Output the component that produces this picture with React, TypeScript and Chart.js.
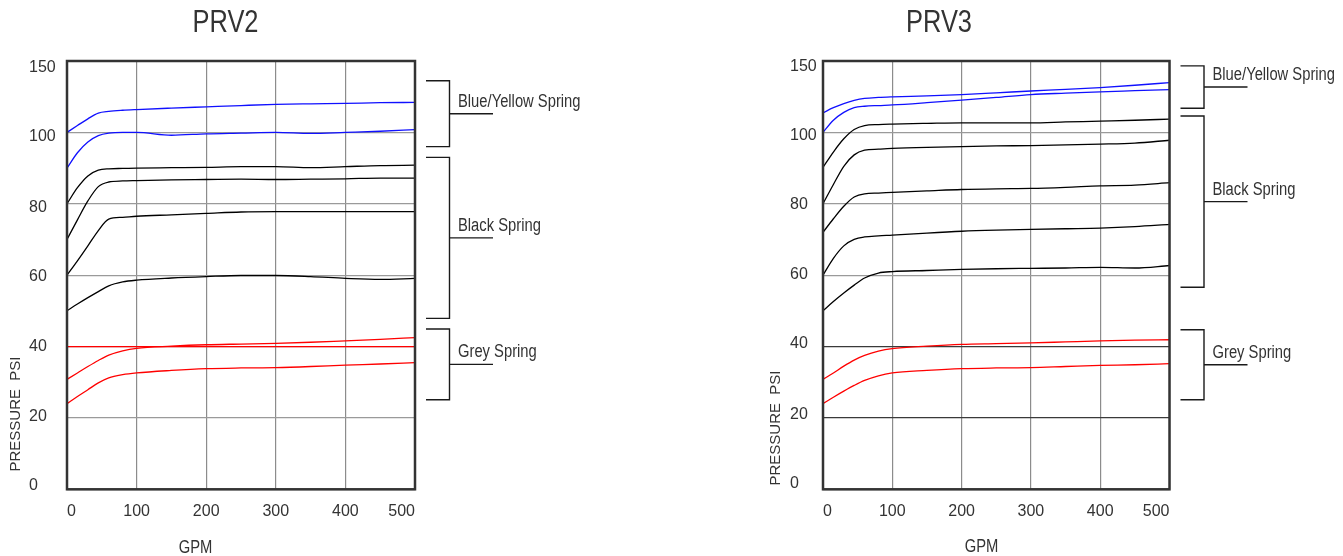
import React, { useEffect, useRef } from 'react';
import { Chart, registerables, LinearScale } from 'chart.js';

// ---------- data ----------
const GPM = [0, 15, 30, 45, 60, 80, 100, 150, 200, 250, 300, 350, 400, 450, 500];
const GPM_TICKS = [0, 100, 200, 300, 400, 500];
const PSI_TICKS = [0, 20, 40, 60, 80, 100, 150];

// PRV2
const PRV2_BLUE_HIGH = [100, 104.8, 109.5, 113.5, 114.7, 115.5, 116, 117, 117.9, 118.8, 119.6, 120, 120.3, 120.8, 121];
const PRV2_BLUE_LOW = [90, 94.3, 97.3, 99.1, 99.8, 100, 100, 99.2, 99.6, 99.8, 100, 99.7, 100, 100.8, 102];
const PRV2_BLACK_1 = [80, 84.5, 87.8, 89.4, 89.8, 89.9, 90, 90.1, 90.2, 90.4, 90.4, 90.1, 90.4, 90.7, 90.8];
const PRV2_BLACK_2 = [70, 75.5, 80.8, 84.8, 86.1, 86.4, 86.5, 86.7, 86.8, 86.9, 86.8, 86.9, 87.0, 87.2, 87.2];
const PRV2_BLACK_3 = [60, 64, 68.2, 72.5, 75.7, 76.2, 76.5, 76.9, 77.3, 77.7, 77.8, 77.8, 77.8, 77.8, 77.8];
const PRV2_BLACK_4 = [50, 51.9, 53.7, 55.4, 57, 58.1, 58.6, 59.2, 59.6, 59.9, 59.9, 59.6, 59.1, 58.8, 59.1];
const PRV2_RED_FLAT = [40, 40, 40, 40, 40, 40, 40, 40, 40, 40, 40, 40, 40, 40, 40];
const PRV2_RED_HIGH = [30.8, 32.6, 34.4, 36.1, 37.6, 38.8, 39.5, 40.1, 40.5, 40.7, 40.9, 41.2, 41.6, 42, 42.5];
const PRV2_RED_LOW = [24, 26, 27.9, 29.8, 31.2, 32.1, 32.6, 33.3, 33.8, 34, 34.1, 34.4, 34.8, 35.1, 35.5];

// PRV3
const PRV3_BLUE_HIGH = [113.7, 117.3, 120.2, 122.4, 123.8, 124.5, 124.9, 125.6, 126.5, 127.7, 129, 130.1, 131.4, 133, 134.9];
const PRV3_BLUE_LOW = [100, 108.5, 114, 117.3, 118.3, 118.8, 119.2, 120.8, 122.6, 124.5, 126.5, 127.5, 128.4, 129.2, 130];
const PRV3_BLACK_1 = [90.2, 94.5, 98.2, 102, 104.8, 105.5, 105.8, 106.3, 106.7, 106.7, 106.7, 107.3, 107.9, 108.5, 109.3];
const PRV3_BLACK_2 = [80, 85.4, 90.5, 93.7, 95, 95.3, 95.5, 95.8, 96, 96.2, 96.3, 96.5, 96.7, 97, 97.8];
const PRV3_BLACK_3 = [72, 75.8, 79.3, 81.9, 82.8, 83, 83.2, 83.6, 84, 84.2, 84.3, 84.6, 85, 85.2, 85.9];
const PRV3_BLACK_4 = [60, 64.7, 68.2, 70, 70.7, 71, 71.2, 71.8, 72.3, 72.6, 72.8, 73, 73.2, 73.6, 74.2];
const PRV3_BLACK_5 = [50, 52.6, 55, 57.2, 59.2, 60.6, 61, 61.3, 61.6, 61.8, 61.9, 62, 62.2, 62, 62.7];
const PRV3_RED_HIGH = [30.8, 32.6, 34.5, 36.2, 37.5, 38.7, 39.4, 40.1, 40.6, 40.8, 41, 41.3, 41.6, 41.8, 41.9];
const PRV3_RED_LOW = [24, 25.8, 27.5, 29.1, 30.5, 31.8, 32.6, 33.3, 33.8, 34, 34.1, 34.4, 34.7, 34.9, 35.2];

// spring groups (psi ranges)
const PRV2_GROUPS = [
  { label: 'Blue/Yellow Spring', from: 96, to: 136.2 },
  { label: 'Black Spring', from: 47.9, to: 93 },
  { label: 'Grey Spring', from: 25.1, to: 44.9 },
];
const PRV3_GROUPS = [
  { label: 'Blue/Yellow Spring', from: 116.9, to: 146.6 },
  { label: 'Black Spring', from: 56.6, to: 111.5 },
  { label: 'Grey Spring', from: 25.1, to: 44.7 },
];

// ---------- styles ----------
const BLUE = '#1010ff';
const BLACK = '#000000';
const RED = '#ff0000';
const SANS = "'Liberation Sans', Arial, sans-serif";
const TEXT = '#333333';
const CONDENSE = 0.82;

// piecewise psi axis: 0..100 takes 5/6 of the height, 100..150 the rest
const BREAK_VALUE = 100;
const BREAK_FRACTION = 5 / 6;

class PiecewiseScale extends LinearScale {
  static id = 'piecewise';
  static defaults = {};
  buildTicks() {
    return PSI_TICKS.map((value) => ({ value }));
  }
  getPixelForValue(value: any) {
    if (value === null || value === undefined || isNaN(value)) return NaN;
    const min = (this as any).min;
    const max = (this as any).max;
    let dec: number;
    if (value <= BREAK_VALUE) dec = ((value - min) / (BREAK_VALUE - min)) * BREAK_FRACTION;
    else dec = BREAK_FRACTION + ((value - BREAK_VALUE) / (max - BREAK_VALUE)) * (1 - BREAK_FRACTION);
    return (this as any).getPixelForDecimal(dec);
  }
  getValueForPixel(pixel: number) {
    const min = (this as any).min;
    const max = (this as any).max;
    const dec = (this as any).getDecimalForPixel(pixel);
    if (dec <= BREAK_FRACTION) return min + (dec / BREAK_FRACTION) * (BREAK_VALUE - min);
    return BREAK_VALUE + ((dec - BREAK_FRACTION) / (1 - BREAK_FRACTION)) * (max - BREAK_VALUE);
  }
  _computeLabelItems(chartArea: any) {
    const items = (LinearScale.prototype as any)._computeLabelItems.call(this, chartArea);
    const shift = (this as any).options.labelShift;
    if (shift) {
      items.forEach((it: any, i: number) => {
        const t = it.options.translation;
        it.options.translation = [t[0], t[1] + (shift[i] || 0)];
      });
    }
    return items;
  }
}

Chart.register(...registerables, PiecewiseScale as any);

type Series = { values: number[]; color: string };

interface ChartCfg {
  title: string;
  left: number;
  width: number;
  series: Series[];
  groups: { label: string; from: number; to: number }[];
  darkGrid: number[];
  yLabelShift: number[];
  pad: { left: number; right: number; top: number };
  yAxisWidth: number;
  titlePos: [number, number];
  yTitlePos: [number, number];
  xTitlePos: [number, number];
}

const HEIGHT = 556;
const PLOT_BOTTOM = 489.3;

const CHARTS: ChartCfg[] = [
  {
    title: 'PRV2',
    left: 0,
    width: 671,
    series: [
      { values: PRV2_BLUE_HIGH, color: BLUE },
      { values: PRV2_BLUE_LOW, color: BLUE },
      { values: PRV2_BLACK_1, color: BLACK },
      { values: PRV2_BLACK_2, color: BLACK },
      { values: PRV2_BLACK_3, color: BLACK },
      { values: PRV2_BLACK_4, color: BLACK },
      { values: PRV2_RED_FLAT, color: RED },
      { values: PRV2_RED_HIGH, color: RED },
      { values: PRV2_RED_LOW, color: RED },
    ],
    groups: PRV2_GROUPS,
    darkGrid: [],
    yLabelShift: [-3.5, -1.6, 0, 1.5, 4, 4.5, 7],
    pad: { left: 29, right: 256, top: 61 },
    yAxisWidth: 38,
    titlePos: [225.5, 23],
    yTitlePos: [15.5, 414],
    xTitlePos: [195.5, 548],
  },
  {
    title: 'PRV3',
    left: 671,
    width: 672,
    series: [
      { values: PRV3_BLUE_HIGH, color: BLUE },
      { values: PRV3_BLUE_LOW, color: BLUE },
      { values: PRV3_BLACK_1, color: BLACK },
      { values: PRV3_BLACK_2, color: BLACK },
      { values: PRV3_BLACK_3, color: BLACK },
      { values: PRV3_BLACK_4, color: BLACK },
      { values: PRV3_BLACK_5, color: BLACK },
      { values: PRV3_RED_HIGH, color: RED },
      { values: PRV3_RED_LOW, color: RED },
    ],
    groups: PRV3_GROUPS,
    darkGrid: [20, 40],
    yLabelShift: [-5.5, -3.8, -2.5, -0.7, 1.1, 2.8, 5.3],
    pad: { left: 119, right: 173.5, top: 61 },
    yAxisWidth: 33,
    titlePos: [939, 23],
    yTitlePos: [776, 428],
    xTitlePos: [981.5, 547],
  },
];

function condensedText(ctx: CanvasRenderingContext2D, text: string, x: number, y: number) {
  ctx.save();
  ctx.translate(x, y);
  ctx.scale(CONDENSE, 1);
  ctx.fillText(text, 0, 0);
  ctx.restore();
}

function makeDecor(cfg: ChartCfg) {
  return {
    id: 'decor-' + cfg.title,
    afterDatasetsDraw(chart: any) {
      const { ctx, chartArea: a, scales } = chart;
      const y = scales.y;
      const ox = cfg.left;
      ctx.save();
      // frame
      ctx.strokeStyle = '#333333';
      ctx.lineWidth = 2.5;
      ctx.strokeRect(a.left, a.top, a.right - a.left, a.bottom - a.top);

      // brackets
      ctx.strokeStyle = '#1a1a1a';
      ctx.lineWidth = 1.4;
      ctx.fillStyle = TEXT;
      ctx.font = `18px ${SANS}`;
      ctx.textAlign = 'left';
      ctx.textBaseline = 'middle';
      for (const g of cfg.groups) {
        const yTop = y.getPixelForValue(g.to);
        const yBot = y.getPixelForValue(g.from);
        const mid = (yTop + yBot) / 2;
        const x0 = a.right + 11;
        const x1 = a.right + 34.5;
        const x2 = a.right + 78;
        ctx.beginPath();
        ctx.moveTo(x0, yTop);
        ctx.lineTo(x1, yTop);
        ctx.lineTo(x1, yBot);
        ctx.lineTo(x0, yBot);
        ctx.moveTo(x1, mid);
        ctx.lineTo(x2, mid);
        ctx.stroke();
        condensedText(ctx, g.label, a.right + 43, mid - 12);
      }

      // title
      ctx.textAlign = 'center';
      ctx.font = `31px ${SANS}`;
      condensedText(ctx, cfg.title, cfg.titlePos[0] - ox, cfg.titlePos[1]);

      // x title
      ctx.font = `18px ${SANS}`;
      condensedText(ctx, 'GPM', cfg.xTitlePos[0] - ox, cfg.xTitlePos[1]);

      // y title
      ctx.save();
      ctx.translate(cfg.yTitlePos[0] - ox, cfg.yTitlePos[1]);
      ctx.rotate(-Math.PI / 2);
      ctx.font = `15px ${SANS}`;
      ctx.fillText('PRESSURE  PSI', 0, 0);
      ctx.restore();

      ctx.restore();
    },
  };
}

function PrvChart({ cfg }: { cfg: ChartCfg }) {
  const ref = useRef<HTMLCanvasElement>(null);
  useEffect(() => {
    const canvas = ref.current!;
    const chart = new Chart(canvas, {
      type: 'line',
      data: {
        datasets: cfg.series.map((s) => ({
          data: GPM.map((x, i) => ({ x, y: s.values[i] })),
          borderColor: s.color,
          borderWidth: 1.3,
          pointRadius: 0,
          fill: false,
          cubicInterpolationMode: 'monotone' as const,
        })),
      },
      options: {
        animation: false,
        responsive: false,
        devicePixelRatio: 1,
        layout: { padding: { left: cfg.pad.left, right: cfg.pad.right, top: cfg.pad.top, bottom: 0 } },
        plugins: {
          legend: { display: false },
          tooltip: { enabled: false },
          title: { display: false },
        },
        scales: {
          x: {
            type: 'linear',
            min: 0,
            max: 500,
            afterBuildTicks: (scale: any) => {
              scale.ticks = GPM_TICKS.map((value) => ({ value }));
            },
            afterFit: (scale: any) => {
              scale.height = HEIGHT - PLOT_BOTTOM;
            },
            border: { display: false },
            grid: { color: '#8c8c8c', lineWidth: 1.2, drawTicks: false },
            ticks: {
              align: 'inner',
              padding: 13,
              color: TEXT,
              font: { family: SANS, size: 16 },
              autoSkip: false,
              maxRotation: 0,
              callback: (v: any) => String(v),
            },
          },
          y: {
            type: 'piecewise' as any,
            min: 0,
            max: 150,
            labelShift: cfg.yLabelShift,
            afterFit: (scale: any) => {
              scale.width = cfg.yAxisWidth;
            },
            border: { display: false },
            grid: {
              color: (c: any) =>
                c.tick && cfg.darkGrid.includes(c.tick.value) ? '#3a3a3a' : '#9a9a9a',
              lineWidth: 1.2,
              drawTicks: false,
            },
            ticks: {
              crossAlign: 'far',
              padding: 0,
              color: TEXT,
              font: { family: SANS, size: 16 },
              autoSkip: false,
              callback: (v: any) => String(v),
            },
          } as any,
        },
      },
      plugins: [makeDecor(cfg)],
    } as any);
    return () => chart.destroy();
  }, [cfg]);
  return (
    <div style={{ position: 'absolute', left: cfg.left, top: 0, width: cfg.width, height: HEIGHT }}>
      <canvas ref={ref} width={cfg.width} height={HEIGHT} style={{ width: cfg.width, height: HEIGHT, display: 'block' }} />
    </div>
  );
}

export default function App() {
  return (
    <div style={{ position: 'fixed', left: 0, top: 0, width: 1343, height: HEIGHT, background: '#ffffff' }}>
      {CHARTS.map((c) => (
        <PrvChart key={c.title} cfg={c} />
      ))}
    </div>
  );
}
